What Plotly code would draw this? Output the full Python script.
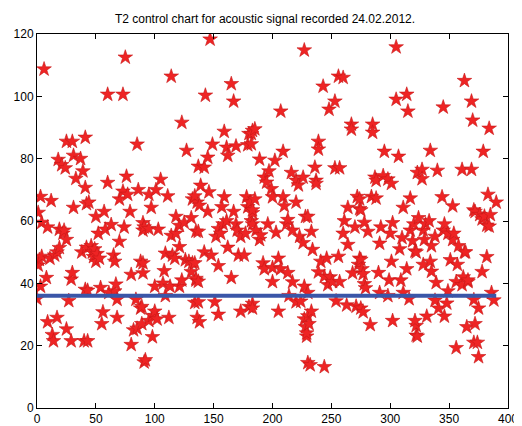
import plotly.graph_objects as go

# sample index and T2 statistic
sample = [0,1,1,2,3,3,4,4,6,8,9,9,11,12,13,14,15,17,17,18,19,19,21,22,23,24,25,25,25,27,29,29,30,30,31,31,33,37,38,39,40,41,41,41,42,42,
          43,43,44,46,47,48,49,50,50,51,52,53,54,55,56,57,58,60,60,61,63,65,66,66,67,68,68,70,70,73,73,74,75,76,77,79,80,80,82,84,85,85,86,88,88,90,90,90,91,
          89,89,90,91,92,95,95,95,97,98,98,100,100,101,102,103,105,107,108,109,109,111,112,113,114,114,115,117,118,118,121,121,121,123,123,125,126,127,129,131,131,132,132,134,135,135,136,136,137,
          134,134,135,137,137,137,138,138,139,142,142,143,145,145,146,147,148,149,151,152,154,154,154,156,157,158,159,159,161,161,162,162,165,165,167,167,169,169,170,171,173,173,176,177,178,179,179,180,180,182,183,183,183,
          181,182,182,183,183,183,185,185,186,189,189,190,192,193,193,195,196,197,199,200,200,200,202,203,205,205,207,207,209,209,210,212,213,213,214,216,217,217,220,220,220,222,223,224,226,226,227,227,228,228,229,230,
          227,229,230,230,230,231,232,233,233,234,236,237,237,239,239,239,241,243,244,244,246,247,248,249,251,253,253,254,256,256,257,257,260,260,261,263,264,264,267,267,268,270,271,272,273,274,274,275,
          274,275,275,276,277,277,278,278,279,281,283,284,285,285,287,288,288,290,291,291,292,294,295,298,298,299,300,301,301,302,302,305,305,307,308,309,310,311,311,314,314,315,316,317,317,319,320,321,322,322,323,
          321,323,322,324,327,327,328,328,329,330,331,333,334,334,335,335,338,338,339,340,341,344,345,345,346,346,348,349,349,351,353,353,354,356,356,357,358,361,361,362,363,363,365,366,369,369,370,371,371,
          364,366,371,372,372,375,374,375,376,378,378,379,380,382,382,383,384,384,385,386,388,390]

t2 = [35,62.7,45.8,47.6,67.8,39,59.5,48.6,108.7,41.8,58,27.6,48,66.5,23.5,21.5,49,50,29,79.7,57.3,51.4,78,56,57,77,54,85.5,25.3,34.4,41.3,21.5,85.5,43.4,81,64.3,73.6,80,50,76,21.5,86.8,70.7,38,65.5,51.5,
      37.7,21.5,66,52,50,48.5,51,61.4,47,49.5,56,48,38.6,27,30.8,63,57.3,100.6,72.3,37,58.8,49,47,37.5,39.7,34.8,29,67,53.4,100.6,69.5,58,112.5,74.3,68.5,63,42.8,20.3,25,34.8,84.6,25.5,70,47,32,59.4,57,43.3,14.7,
      32.5,27,46.5,58,15.4,57.5,68.5,28,64.3,29.6,22.8,39,31,70,28.5,57.3,73.3,40,44,49.6,36,68,29,39,106.4,55.3,49,48,61.4,56,58.5,51.7,39,91.6,41,59.5,47.5,82.6,47,61,43.7,67,46.5,33.8,56.7,41,66,29,77.5,
      68,46.5,41.5,56.6,40.6,34,65,27.6,71.4,77.2,50,100.3,80.4,63,69.3,118.3,49,84.6,34,55,57.5,45.6,30,56,64.5,59,88.7,67.7,83.6,60,81,51.5,104,41.8,98.4,63,84,59,57,49,55,31,49,56,67.7,84.4,64.5,88,32.5,60,89,62.6,33.5,
      66,88,84.7,63.5,59,32,89.5,67,57,79.8,54,55.5,46.5,74,44.6,72.4,59,76,70.3,67.7,45,40.5,79.4,56.3,48,31,95.2,44.6,82.3,67.7,64.8,59,60.4,43.4,36,75.5,57,40.4,73,66,34,71.5,55,34.2,74,53,114.8,28.5,61.4,26,23,14.5,
      39,24,61.4,37,29.5,27,13.8,56.6,31,50.8,77.2,73,72,85.5,83,43.6,47,103.2,42.2,13.2,48,39.5,95.8,42,40.5,98.4,77,34.3,106.4,48.6,77,40.5,106,56,60,33,64.3,52.4,91,89.4,43.3,58,32.6,67.8,46,63.9,48,32,
      67,63.5,47.6,44.6,43,30.8,59.5,39.8,38.5,56.6,26.7,67.8,91,88.4,74,73,67.3,43.4,52.8,37,58,74.5,82.3,73.4,36,41,56,72,47,59.4,28,115.8,99,80.7,51,41,54.6,64.3,37,100.6,44.6,95.2,35,67.3,57,53.6,59,50.3,26.4,23.3,75.5,
      28,23,50,61,76.5,73.5,57,46,54,59,29.4,60,82.6,47,52,43.8,55,34.5,40.2,76.2,32,67.7,96.5,57,59,29.4,33.6,37.5,56,47.5,64.8,54,56,40.5,19.3,46,52,76.5,39.5,42,50,105,26,40.5,76.5,98.4,92.3,63.5,21,
      50,41,34.7,27,63,32,21,16.4,62,60.6,43.7,82.3,61.5,58.6,48.5,68.5,89.7,58.3,62,37,34.6,66]

limit_x = [0, 390]
limit_value = [36.0, 36.0]

x_ticks = [0, 50, 100, 150, 200, 250, 300, 350, 400]
y_ticks = [0, 20, 40, 60, 80, 100, 120]

fig = go.Figure()
fig.add_trace(go.Scatter(
    x=sample, y=t2, mode="markers",
    marker=dict(symbol="star", size=11, color="#ee2424",
                line=dict(color="#c81818", width=0.6)),
    showlegend=False, cliponaxis=True))
fig.add_trace(go.Scatter(
    x=limit_x, y=limit_value, mode="lines",
    line=dict(color="#3a56a8", width=4),
    showlegend=False))

axis_common = dict(showgrid=False, zeroline=False, showline=True, linecolor="black",
                   linewidth=1, mirror="ticks", ticks="inside", ticklen=5, automargin=False,
                   tickcolor="black", tickfont=dict(family="Liberation Sans, Arial", size=12, color="black"))
fig.update_xaxes(range=[0, 400], tickvals=x_ticks, **axis_common)
fig.update_yaxes(range=[0, 120], tickvals=y_ticks, **axis_common)

fig.update_layout(
    width=514, height=418,
    margin=dict(l=29, r=14, t=26, b=18),
    plot_bgcolor="white", paper_bgcolor="white",
    title=dict(text="T2 control chart for acoustic signal recorded 24.02.2012.",
               x=0.5, xanchor="center", y=0.975, yanchor="middle",
               font=dict(family="Liberation Sans, Arial", size=12, color="black")),
)

fig.write_html("out.html")
